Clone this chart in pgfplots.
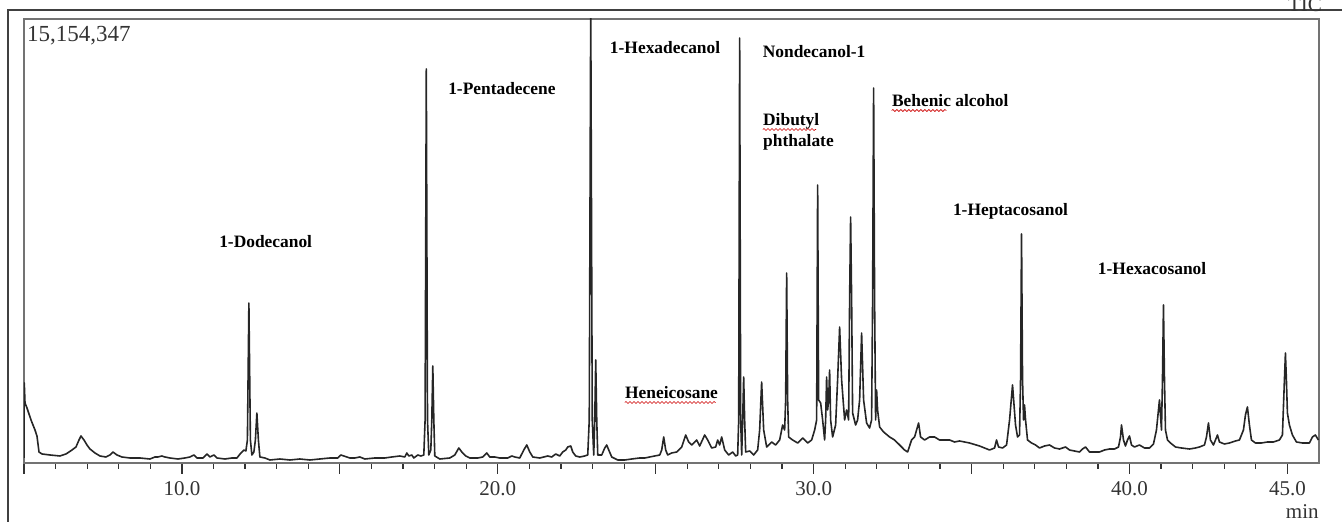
\documentclass[border=0pt]{standalone}
\usepackage{fontspec}
\setmainfont{Liberation Serif}
\usepackage{pgfplots}
\pgfplotsset{compat=1.18}
\usetikzlibrary{calc,decorations.pathmorphing}
\pgfplotstableread{
x y
5.000 5
5.009 80
5.032 60
5.095 55
5.222 43
5.348 33
5.411 27
5.475 11
5.570 9
5.823 8
6.139 7
6.329 9
6.519 13
6.646 16
6.741 23
6.804 27
6.899 23
6.994 18
7.089 14
7.247 10
7.405 7
7.595 6
7.722 8
7.816 11
7.943 8
8.101 6
8.354 5
8.671 5
8.987 4
9.146 6
9.241 6
9.367 7
9.462 6
9.620 5
9.873 4
10.095 5
10.253 6
10.380 8
10.475 5
10.665 5
10.791 9
10.886 6
11.013 8
11.108 5
11.361 4
11.582 5
11.741 5
11.867 10
11.962 13
12.025 12
12.073 23
12.120 160
12.168 23
12.215 8
12.278 11
12.326 23
12.373 50
12.421 23
12.468 6
12.627 5
12.785 3
13.101 4
13.418 3
13.734 4
14.051 3
14.367 4
14.684 5
14.937 5
15.032 8
15.127 7
15.316 5
15.475 5
15.633 6
15.791 4
16.108 5
16.424 5
16.646 6
16.899 7
17.057 6
17.120 10
17.184 7
17.278 8
17.342 5
17.468 8
17.563 7
17.658 8
17.699 43
17.737 394
17.775 43
17.816 8
17.880 13
17.911 43
17.943 97
17.975 43
18.006 7
18.165 4
18.481 5
18.639 8
18.766 15
18.861 11
18.987 7
19.114 5
19.367 5
19.525 6
19.652 10
19.747 6
19.905 6
20.063 5
20.316 5
20.443 7
20.538 6
20.696 5
20.823 13
20.918 18
21.013 11
21.108 6
21.329 5
21.582 7
21.709 6
21.835 9
21.962 7
22.057 11
22.152 13
22.215 16
22.310 17
22.373 11
22.468 7
22.595 6
22.753 7
22.848 8
22.896 43
22.943 460
22.991 43
23.038 8
23.070 43
23.101 103
23.133 43
23.165 8
23.291 8
23.386 15
23.449 18
23.513 13
23.608 6
23.797 3
24.019 3
24.241 4
24.494 5
24.652 5
24.810 6
24.968 7
25.127 8
25.190 13
25.253 26
25.316 13
25.380 8
25.506 10
25.665 11
25.823 16
25.949 28
26.044 21
26.139 18
26.297 23
26.392 17
26.551 28
26.646 23
26.772 15
26.899 16
26.962 23
27.025 18
27.089 26
27.184 13
27.310 8
27.437 11
27.532 7
27.595 8
27.627 43
27.658 425
27.690 43
27.722 8
27.753 43
27.785 86
27.816 43
27.848 11
27.975 12
28.101 8
28.228 13
28.291 33
28.354 81
28.418 33
28.513 16
28.671 21
28.797 18
28.924 23
29.019 38
29.082 33
29.114 63
29.146 190
29.177 63
29.209 26
29.335 23
29.494 20
29.652 25
29.810 20
29.937 23
30.032 33
30.095 43
30.127 278
30.158 63
30.222 60
30.285 43
30.348 23
30.380 43
30.411 86
30.443 53
30.475 63
30.506 93
30.538 43
30.601 26
30.696 38
30.759 83
30.823 136
30.886 83
30.981 43
31.044 53
31.108 43
31.139 163
31.171 246
31.203 163
31.234 50
31.329 38
31.392 43
31.456 63
31.519 130
31.582 63
31.677 40
31.772 35
31.835 43
31.867 163
31.899 375
31.930 163
31.962 43
31.994 73
32.025 53
32.089 36
32.215 31
32.405 26
32.563 23
32.722 18
32.880 13
32.975 11
33.101 23
33.196 26
33.323 40
33.386 26
33.513 23
33.671 26
33.829 26
33.987 23
34.304 23
34.462 21
34.620 22
34.937 20
35.253 17
35.411 15
35.570 13
35.728 15
35.791 23
35.854 16
35.981 15
36.108 18
36.203 43
36.297 78
36.392 38
36.456 26
36.519 28
36.551 83
36.582 229
36.614 83
36.646 43
36.677 58
36.709 43
36.772 23
36.899 20
37.025 18
37.152 15
37.310 17
37.468 18
37.627 15
37.785 14
37.975 16
38.101 13
38.259 12
38.418 11
38.513 14
38.608 16
38.734 11
38.892 11
39.051 11
39.209 13
39.367 14
39.525 14
39.652 16
39.715 26
39.747 38
39.810 23
39.873 17
39.937 23
40.000 27
40.063 18
40.158 16
40.316 18
40.475 15
40.633 15
40.759 19
40.854 33
40.949 63
41.013 33
41.044 83
41.076 158
41.108 83
41.139 33
41.203 23
41.297 20
41.456 16
41.646 15
41.899 14
42.089 15
42.215 16
42.373 18
42.437 26
42.500 40
42.563 23
42.658 18
42.722 23
42.785 28
42.848 21
43.006 19
43.165 20
43.354 22
43.481 23
43.608 33
43.671 48
43.734 56
43.797 38
43.861 23
43.987 20
44.177 20
44.367 21
44.557 21
44.747 23
44.842 28
44.905 83
44.937 110
44.968 83
45.000 50
45.063 38
45.158 28
45.285 21
45.475 20
45.696 20
45.791 26
45.886 28
45.981 23
}\tic
\begin{document}
\begin{tikzpicture}[x=1pt,y=1pt]
\begin{axis}[
  name=ax,
  scale only axis, width=647.5pt, height=222pt,
  xmin=5, xmax=46, ymin=0, ymax=444,
  axis line style={black!55, line width=0.9pt},
  xtick={5,10,...,45},
  xticklabels={,10.0,,20.0,,30.0,,40.0,45.0},
  minor x tick num=4,
  ytick=\empty,
  xtick pos=bottom,
  tick align=outside,
  major tick length=5.5pt, minor tick length=3pt,
  every tick/.style={black!80, line width=0.6pt},
  x tick label style={font=\fontsize{10.5}{12}\selectfont, text=black!80},
  /pgf/number format/assume math mode=true,
]
\addplot[black!85, line width=0.8pt, line join=round] table {\tic};
\begin{scope}[every node/.style={anchor=base west, inner sep=0pt, font=\bfseries\fontsize{8.7}{10}\selectfont}]
\node at (axis cs:11.17,215) {1-Dodecanol};
\node at (axis cs:18.42,368) {1-Pentadecene};
\node at (axis cs:23.54,409) {1-Hexadecanol};
\node at (axis cs:28.38,405) {Nondecanol-1};
\node at (axis cs:28.39,337) {Dibutyl};
\node at (axis cs:28.39,316) {phthalate};
\node at (axis cs:32.47,356) {Behenic alcohol};
\node at (axis cs:34.40,247) {1-Heptacosanol};
\node at (axis cs:38.99,188) {1-Hexacosanol};
\node at (axis cs:24.02,64) {Heneicosane};
\end{scope}
\begin{scope}[red!80!black, line width=0.3pt, decoration={snake, amplitude=0.5pt, segment length=2pt}]
\draw[decorate] (axis cs:28.39,333.5) -- (axis cs:30.08,333.5);
\draw[decorate] (axis cs:32.47,352.5) -- (axis cs:34.20,352.5);
\draw[decorate] (axis cs:24.02,60.5) -- (axis cs:26.90,60.5);
\end{scope}
\node[anchor=base west, inner sep=0pt, font=\fontsize{11.5}{13}\selectfont, text=black!80] at (axis cs:5.09,421) {15,154,347};
\coordinate (O) at (rel axis cs:0,0);
\coordinate (E) at (rel axis cs:1,0);
\end{axis}
\node[anchor=base east, inner sep=0pt, font=\fontsize{10.5}{12}\selectfont, text=black!80] at ($(E)+(0,-27.8)$) {min};
\draw[black!75, line width=0.75pt] ($(O)+(-8,-29.5)$) -- ($(O)+(-8,226.5)$) -- ($(O)+(659,226.5)$);
\node[anchor=base, font=\fontsize{10.5}{12}\selectfont, text=black!80, inner sep=0pt] at ($(O)+(640.5,225.5)$) {TIC};
\pgfresetboundingbox
\path[use as bounding box] ($(O)+(-12,-29.5)$) rectangle ($(O)+(659,231.5)$);
\end{tikzpicture}
\end{document}
